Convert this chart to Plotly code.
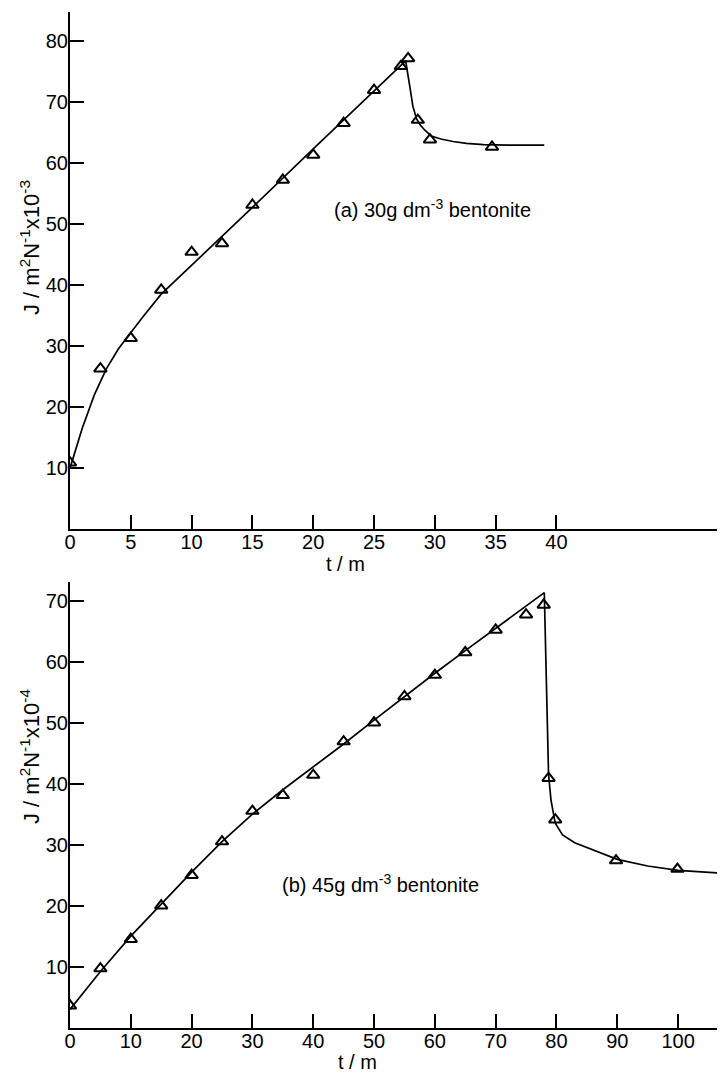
import plotly.graph_objects as go

# (a) 30 g dm^-3 bentonite: measured flux points
t_a = [0, 2.5, 5, 7.5, 10, 12.5, 15, 17.5, 20, 22.5, 25, 27.2, 27.8, 28.6, 29.6, 34.7]
j_a = [10.9, 26.3, 31.3, 39.2, 45.4, 46.8, 53.1, 57.2, 61.3, 66.5, 71.9, 75.8, 77.1, 67.0, 63.8, 62.6]
# (a) drawn trend curve
fit_t_a = [0, 1, 2, 3, 4, 5, 6, 7.5, 10, 15, 20, 25, 27.6, 27.9, 28.2, 28.5, 28.8, 29.2,
           29.7, 30.5, 31.5, 32.6, 34, 36, 39]
fit_j_a = [10, 16.5, 22, 26.3, 29.6, 32.3, 34.8, 38.5, 43.2, 52.7, 62.3, 71.8, 76.7, 73.0,
           69.2, 67.2, 66.2, 65.3, 64.4, 63.9, 63.5, 63.2, 63.0, 62.9, 62.9]

# (b) 45 g dm^-3 bentonite: measured flux points
t_b = [0, 5, 10, 15, 20, 25, 30, 35, 40, 45, 50, 55, 60, 65, 70, 75, 77.9, 78.7, 79.8, 89.8, 99.9]
j_b = [3.6, 9.7, 14.5, 20.0, 25.0, 30.5, 35.5, 38.1, 41.4, 46.9, 50.0, 54.3, 57.8, 61.5,
       65.2, 67.7, 69.3, 40.9, 34.1, 27.4, 26.0]
# (b) drawn trend curve
fit_t_b = [0, 5, 10, 15, 20, 25, 30, 35, 40, 45, 50, 55, 60, 65, 70, 75, 78, 78.7, 79.1,
           79.8, 81, 83, 85, 87.5, 90, 95, 100, 107.5]
fit_j_b = [3, 9.2, 15, 20.3, 25.5, 30.5, 35, 39, 42.7, 46.5, 50.4, 54.3, 58.1, 61.8, 65.5,
           69.1, 71.3, 41.5, 37.3, 33.5, 31.6, 30.3, 29.5, 28.5, 27.6, 26.5, 25.8, 25.3]

x_ticks_a = [0, 5, 10, 15, 20, 25, 30, 35, 40]
y_ticks_a = [10, 20, 30, 40, 50, 60, 70, 80]
x_ticks_b = [0, 10, 20, 30, 40, 50, 60, 70, 80, 90, 100]
y_ticks_b = [10, 20, 30, 40, 50, 60, 70]

W, H = 724, 1074
ML, MR = 70, 7
FONT = "Liberation Sans"
INK = "black"

fig = go.Figure()

marker_style = dict(symbol="triangle-up-open", size=11, color=INK, line=dict(width=2, color=INK))

fig.add_trace(go.Scatter(x=fit_t_a, y=fit_j_a, mode="lines", line=dict(color=INK, width=1.7),
                         xaxis="x", yaxis="y", hoverinfo="skip"))
fig.add_trace(go.Scatter(x=t_a, y=j_a, mode="markers", marker=marker_style, xaxis="x", yaxis="y"))
fig.add_trace(go.Scatter(x=fit_t_b, y=fit_j_b, mode="lines", line=dict(color=INK, width=1.7),
                         xaxis="x2", yaxis="y2", hoverinfo="skip"))
fig.add_trace(go.Scatter(x=t_b, y=j_b, mode="markers", marker=marker_style, xaxis="x2", yaxis="y2"))

axis_common = dict(showgrid=False, zeroline=False, showline=True, linecolor=INK, linewidth=2,
                   ticks="inside", ticklen=14, tickwidth=1.5, tickcolor=INK,
                   tickfont=dict(family=FONT, size=20, color=INK))


def px2x(px):
    # paper x is measured across the plotting area between the margins
    return (px - ML) / (W - ML - MR)


def px2y(py):
    return (H - py) / H


fig.update_layout(
    width=W, height=H,
    margin=dict(l=ML, r=MR, t=0, b=0),
    paper_bgcolor="white", plot_bgcolor="white",
    showlegend=False,
    xaxis=dict(domain=[0, 1], range=[0, 53.2], tickvals=x_ticks_a, anchor="y",
               ticklabelstandoff=-6, **axis_common),
    yaxis=dict(domain=[px2y(529.3), px2y(12)], range=[0, 84.7], tickvals=y_ticks_a,
               anchor="x", ticklabelstandoff=-4, **axis_common),
    xaxis2=dict(domain=[0, 1], range=[0, 106.4], tickvals=x_ticks_b, anchor="y2",
                ticklabelstandoff=-6, **axis_common),
    yaxis2=dict(domain=[px2y(1027.7), px2y(581.7)], range=[0, 73.1], tickvals=y_ticks_b,
                anchor="x2", ticklabelstandoff=-4, **axis_common),
)

text_font = dict(family=FONT, size=20, color=INK)
title_font = dict(family=FONT, size=22, color=INK)
annotations = [
    dict(x=px2x(30), y=px2y(248), text="J / m<sup>2</sup>N<sup>-1</sup>x10<sup>-3</sup>",
         textangle=-90, xanchor="center", yanchor="middle", font=title_font),
    dict(x=px2x(30), y=px2y(757), text="J / m<sup>2</sup>N<sup>-1</sup>x10<sup>-4</sup>",
         textangle=-90, xanchor="center", yanchor="middle", font=title_font),
    dict(x=px2x(345), y=px2y(564), text="t / m", xanchor="center", yanchor="middle",
         font=text_font),
    dict(x=px2x(357), y=px2y(1062), text="t / m", xanchor="center", yanchor="middle",
         font=text_font),
    dict(x=px2x(332), y=px2y(208), text="(a) 30g dm<sup>-3</sup> bentonite",
         xanchor="left", yanchor="middle", font=text_font),
    dict(x=px2x(280), y=px2y(883), text="(b) 45g dm<sup>-3</sup> bentonite",
         xanchor="left", yanchor="middle", font=text_font),
]
for a in annotations:
    a.update(xref="paper", yref="paper", showarrow=False)
fig.update_layout(annotations=annotations)

fig.write_html("out.html")
